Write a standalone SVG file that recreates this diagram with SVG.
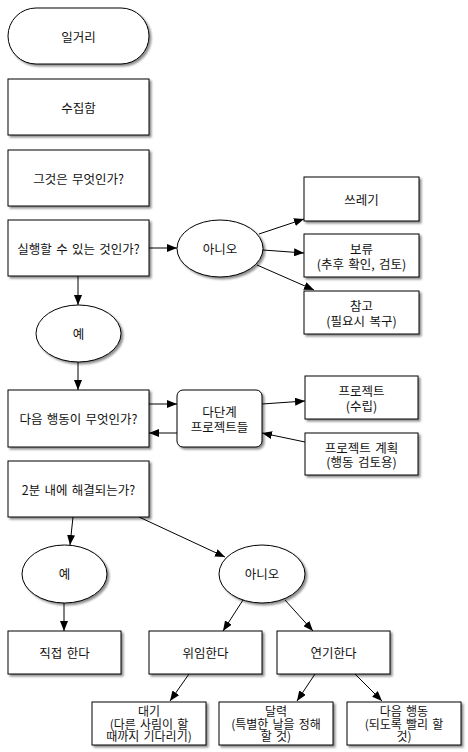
<svg xmlns="http://www.w3.org/2000/svg" width="468" height="752" viewBox="0 0 468 752">
<defs>
<filter id="sh" x="-10%" y="-10%" width="130%" height="140%"><feDropShadow dx="2" dy="2" stdDeviation="1" flood-color="#000" flood-opacity="0.45"/></filter>
<marker id="ar" viewBox="0 0 10 8" refX="10" refY="4" markerWidth="10" markerHeight="8" markerUnits="userSpaceOnUse" orient="auto"><path d="M0,0 L10,4 L0,8 Z" fill="#000"/></marker>
<style>
.n{fill:#fff;stroke:#000;stroke-width:1;filter:url(#sh)}
.t{font-family:"Noto Sans CJK KR","DejaVu Sans",sans-serif;font-size:12.5px;fill:#111;text-anchor:middle;dominant-baseline:central;word-spacing:1.5px}
.s{font-size:12px}
.c{stroke:#000;stroke-width:1;fill:none;marker-end:url(#ar)}
</style>
</defs>
<rect width="468" height="752" fill="#fff"/>
<g id="connectors">
<line class="c" x1="78" y1="276" x2="78" y2="305"/>
<line class="c" x1="78" y1="362" x2="78" y2="390"/>
<line class="c" x1="149" y1="248" x2="177" y2="248"/>
<line class="c" x1="259" y1="234" x2="304" y2="219"/>
<line class="c" x1="263" y1="250" x2="304" y2="253"/>
<line class="c" x1="257" y1="265" x2="314" y2="290"/>
<line class="c" x1="149" y1="404" x2="177" y2="404"/>
<line class="c" x1="177" y1="433" x2="149" y2="433"/>
<line class="c" x1="262" y1="404" x2="305" y2="401"/>
<line class="c" x1="305" y1="442" x2="262" y2="433"/>
<line class="c" x1="73" y1="517" x2="70" y2="545"/>
<line class="c" x1="139" y1="517" x2="225" y2="557"/>
<line class="c" x1="64" y1="603" x2="64" y2="631"/>
<line class="c" x1="243" y1="600" x2="223" y2="631"/>
<line class="c" x1="285" y1="600" x2="313" y2="631"/>
<line class="c" x1="189" y1="674" x2="170" y2="701"/>
<line class="c" x1="315" y1="674" x2="297" y2="701"/>
<line class="c" x1="355" y1="674" x2="382" y2="701"/>
</g>
<g id="n1"><rect class="n" x="8" y="8" width="141" height="56" rx="28" ry="28"/><text class="t" x="78.5" y="36">일거리</text></g>
<g id="n2"><rect class="n" x="8" y="79" width="141" height="56"/><text class="t" x="78.5" y="107">수집함</text></g>
<g id="n3"><rect class="n" x="8" y="150" width="141" height="56"/><text class="t" x="78.5" y="178">그것은 무엇인가?</text></g>
<g id="n4"><rect class="n" x="8" y="220" width="141" height="56"/><text class="t" x="78.5" y="248">실행할 수 있는 것인가?</text></g>
<g id="n5"><ellipse class="n" cx="220" cy="248.5" rx="43" ry="28.5"/><text class="t" x="220" y="248">아니오</text></g>
<g id="n6"><rect class="n" x="304" y="177" width="115" height="44"/><text class="t" x="361.5" y="199">쓰레기</text></g>
<g id="n7"><rect class="n" x="304" y="234" width="115" height="43"/><text class="t" x="361.5" y="248.5">보류<tspan x="361.5" dy="14">(추후 확인, 검토)</tspan></text></g>
<g id="n8"><rect class="n" x="304" y="291" width="115" height="43"/><text class="t" x="361.5" y="305.5">참고<tspan x="361.5" dy="14">(필요시 복구)</tspan></text></g>
<g id="n9"><ellipse class="n" cx="78.5" cy="333.5" rx="42.5" ry="28.5"/><text class="t" x="78.5" y="333">예</text></g>
<g id="n10"><rect class="n" x="8" y="390" width="141" height="57"/><text class="t" x="78.5" y="418.5">다음 행동이 무엇인가?</text></g>
<g id="n11"><rect class="n" x="177" y="390" width="85" height="57" rx="6" ry="6"/><text class="t" x="219.5" y="411.5">다단계<tspan x="219.5" dy="14">프로젝트들</tspan></text></g>
<g id="n12"><rect class="n" x="305" y="376" width="113" height="43"/><text class="t" x="361.5" y="390.5">프로젝트<tspan x="361.5" dy="14">(수립)</tspan></text></g>
<g id="n13"><rect class="n" x="305" y="433" width="113" height="42"/><text class="t" x="361.5" y="447">프로젝트 계획<tspan x="361.5" dy="14">(행동 검토용)</tspan></text></g>
<g id="n14"><rect class="n" x="8" y="461" width="141" height="56"/><text class="t" x="78.5" y="489">2분 내에 해결되는가?</text></g>
<g id="n15"><ellipse class="n" cx="64.5" cy="574" rx="42.5" ry="29"/><text class="t" x="64.5" y="573">예</text></g>
<g id="n16"><ellipse class="n" cx="262" cy="574" rx="43" ry="29"/><text class="t" x="262" y="573">아니오</text></g>
<g id="n17"><rect class="n" x="8" y="631" width="113" height="43"/><text class="t" x="64.5" y="652.5">직접 한다</text></g>
<g id="n18"><rect class="n" x="149" y="631" width="113" height="43"/><text class="t" x="205.5" y="652.5">위임한다</text></g>
<g id="n19"><rect class="n" x="277" y="631" width="113" height="43"/><text class="t" x="333.5" y="652.5">연기한다</text></g>
<g id="n20"><rect class="n" x="92" y="702" width="114" height="43"/><text class="t s" x="149" y="710.5">대기<tspan x="149" dy="12">(다른 사림이 할</tspan><tspan x="149" dy="12">때까지 기다리기)</tspan></text></g>
<g id="n21"><rect class="n" x="219" y="702" width="114" height="43"/><text class="t s" x="276" y="710.5">달력<tspan x="276" dy="12">(특별한 날을 정해</tspan><tspan x="276" dy="12">할 것)</tspan></text></g>
<g id="n22"><rect class="n" x="347" y="702" width="114" height="43"/><text class="t s" x="404" y="710.5">다음 행동<tspan x="404" dy="12">(되도록 빨리 할</tspan><tspan x="404" dy="12">것)</tspan></text></g>
</svg>
